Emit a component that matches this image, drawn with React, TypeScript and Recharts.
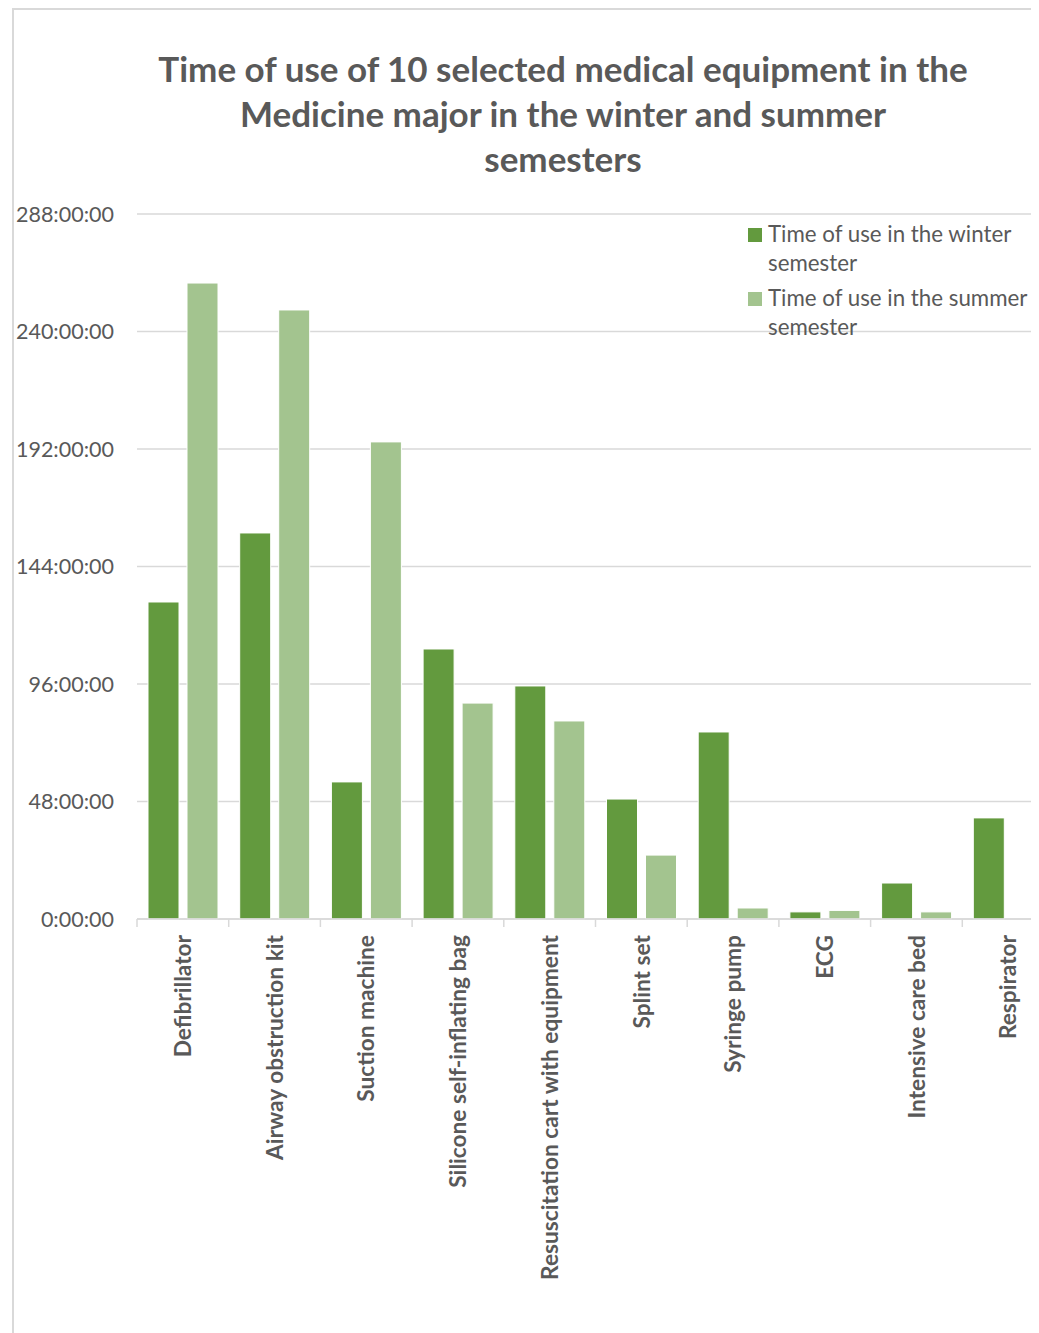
import React from 'react';
import { BarChart, Bar, XAxis, YAxis, CartesianGrid } from 'recharts';

const categories = [
  'Defibrillator',
  'Airway obstruction kit',
  'Suction machine',
  'Silicone self-inflating bag',
  'Resuscitation cart with equipment',
  'Splint set',
  'Syringe pump',
  'ECG',
  'Intensive care bed',
  'Respirator',
];
// hours of use
const winterHours = [129.5, 157.7, 56, 110.3, 95.2, 49, 76.4, 2.9, 14.7, 41.3];
const summerHours = [259.8, 248.8, 194.9, 88.2, 80.9, 26.1, 4.5, 3.5, 2.9, 0];
const yTicks = [0, 48, 96, 144, 192, 240, 288];
const seriesNames = ['Time of use in the winter semester', 'Time of use in the summer semester'];
const seriesColors = ['#639a3e', '#a3c48f'];
const titleLines = [
  'Time of use of 10 selected medical equipment in the',
  'Medicine major in the winter and summer',
  'semesters',
];

const data = categories.map((name, i) => ({
  name,
  winter: winterHours[i],
  summer: summerHours[i],
}));

const FONT = 'Lato, "Open Sans", sans-serif';

const fmt = (h: number) => `${h}:00:00`;

const XTick = (props: any) => {
  const { x, y, payload } = props;
  const off = payload && typeof payload.offset === 'number' ? payload.offset : 45.85;
  return (
    <g>
      <line x1={x - off} y1={y} x2={x - off} y2={y + 8} stroke="#d9d9d9" strokeWidth={1.5} />
      <text
        x={x}
        y={y + 16}
        transform={`rotate(-90, ${x}, ${y + 16})`}
        textAnchor="end"
        dy="0.36em"
        fill="#595959"
        fontFamily={FONT}
        fontWeight={700}
        fontSize={22.7}
      >
        {payload.value}
      </text>
    </g>
  );
};

export default function App() {
  return (
    <div style={{ position: 'relative', width: 1100, height: 1325, overflow: 'hidden', background: '#fff' }}>
      <style>{`html, body { overflow: hidden; }`}</style>
      <div
        style={{
          position: 'absolute',
          left: 4,
          top: 0,
          width: 1200,
          height: 1500,
          borderLeft: '2px solid #d9d9d9',
          borderTop: '2px solid #d9d9d9',
          boxSizing: 'border-box',
        }}
      />
      <div
        style={{
          position: 'absolute',
          left: 555 - 460,
          top: 38,
          width: 920,
          textAlign: 'center',
          fontFamily: FONT,
          fontWeight: 700,
          fontSize: 35,
          lineHeight: '45px',
          color: '#595959',
        }}
      >
        {titleLines.map((l, i) => (
          <div key={i}>{l}</div>
        ))}
      </div>
      <div style={{ position: 'absolute', left: 0, top: 0 }}>
        <BarChart
          width={1100}
          height={1325}
          data={data}
          margin={{ top: 206, right: 54, bottom: 54, left: 0 }}
          barCategoryGap={11}
          barGap={8}
        >
          <CartesianGrid vertical={false} stroke="#d9d9d9" strokeWidth={1.5} />
          <XAxis
            dataKey="name"
            interval={0}
            height={360}
            tickSize={0}
            tickMargin={0}
            tickLine={false}
            axisLine={{ stroke: '#d9d9d9', strokeWidth: 1.5 }}
            tick={<XTick />}
          />
          <YAxis
            width={129}
            domain={[0, 288]}
            ticks={yTicks}
            tickFormatter={fmt}
            axisLine={false}
            tickLine={false}
            tickSize={8}
            tickMargin={15}
            tick={{ fill: '#595959', fontFamily: FONT, fontSize: 21.5 }}
          />
          <Bar dataKey="winter" name={seriesNames[0]} fill={seriesColors[0]} stroke="#ffffff" strokeWidth={1} isAnimationActive={false} />
          <Bar dataKey="summer" name={seriesNames[1]} fill={seriesColors[1]} stroke="#ffffff" strokeWidth={1} isAnimationActive={false} />
        </BarChart>
      </div>
      <div style={{ position: 'absolute', left: 740, top: 211, fontFamily: FONT, fontSize: 22.3, color: '#595959' }}>
        {seriesNames.map((n, i) => (
          <div key={i} style={{ position: 'relative', paddingLeft: 20, width: 266, lineHeight: '29px', marginBottom: 6 }}>
            <span
              style={{
                position: 'absolute',
                left: 0,
                top: 9,
                width: 14,
                height: 14,
                background: seriesColors[i],
              }}
            />
            {n}
          </div>
        ))}
      </div>
    </div>
  );
}
